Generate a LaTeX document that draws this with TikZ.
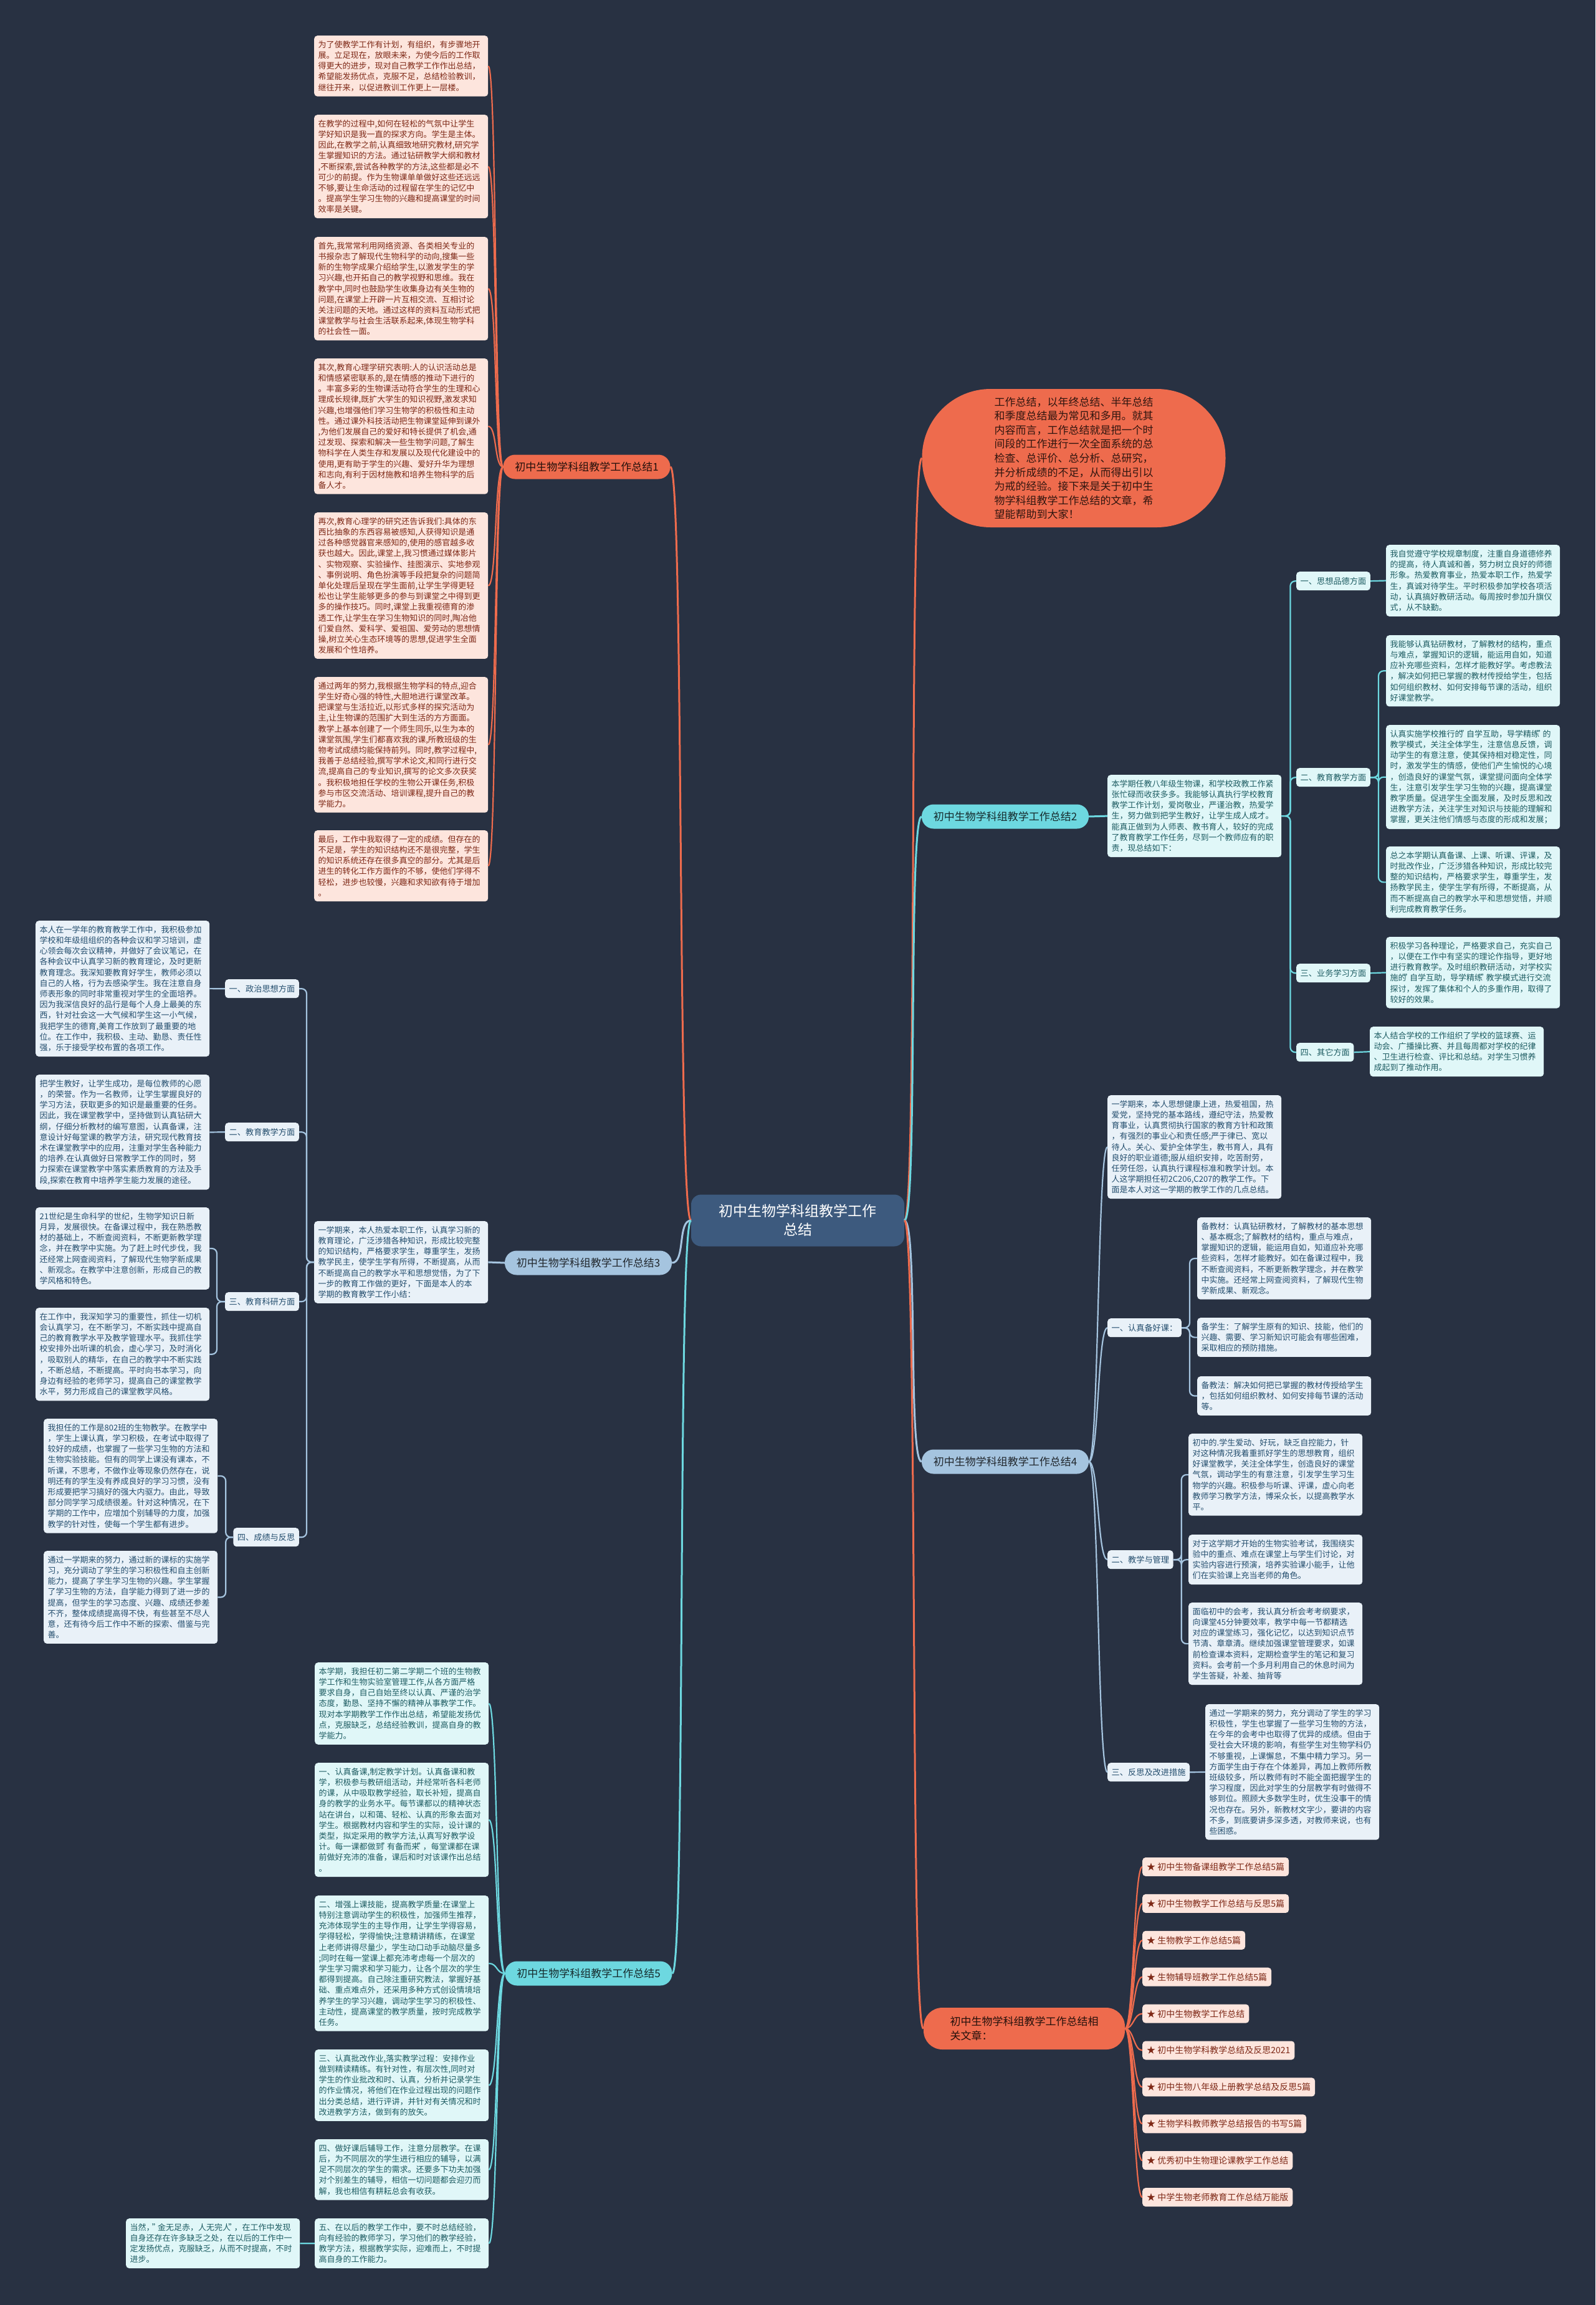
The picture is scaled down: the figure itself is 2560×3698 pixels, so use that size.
\documentclass[tikz,border=0pt]{standalone}
\usepackage{fontspec}
\setmainfont{Noto Sans CJK SC}
\newcommand\myfs[2]{\fontsize{#1}{#2}\selectfont}
\newcommand\dq{\makebox[5.5pt][c]{"}}
\definecolor{bgc}{HTML}{283142}
\definecolor{ocol}{HTML}{EE6B4D}
\definecolor{opink}{HTML}{FDE5DD}
\definecolor{otext}{HTML}{7E2816}
\definecolor{ccol}{HTML}{6DD8E0}
\definecolor{cpale}{HTML}{E0F7F8}
\definecolor{ctext}{HTML}{1D5C62}
\definecolor{bcol}{HTML}{A5C4DF}
\definecolor{bpale}{HTML}{E9F1F8}
\definecolor{btext}{HTML}{244E6E}
\definecolor{cen}{HTML}{3D5A7E}
\tikzset{
 box/.style={rounded corners=5pt, inner xsep=6.5pt, inner ysep=8.1pt, align=left, anchor=north west, text width=266pt, font=\myfs{13}{17.2}},
 obox/.style={box, fill=opink, text=otext},
 cbox/.style={box, fill=cpale, text=ctext},
 bbox/.style={box, fill=bpale, text=btext},
 slab/.style={rounded corners=5pt, inner xsep=6.5pt, inner ysep=0pt, minimum height=30pt, font=\myfs{13.2}{16}},
 cslab/.style={slab, fill=cpale, text=ctext},
 bslab/.style={slab, fill=bpale, text=btext},
 blab/.style={rounded corners=19pt, minimum width=268pt, minimum height=39pt, inner sep=0pt, font=\myfs{17}{20}},
 ritem/.style={rounded corners=5pt, anchor=west, inner xsep=7pt, inner ysep=0pt, minimum height=30pt, fill=opink, text=otext, font=\myfs{14}{16}},
 oln/.style={draw=ocol, line width=3pt},
 cln/.style={draw=ccol, line width=3pt},
 bln/.style={draw=bcol, line width=3pt},
 oln2/.style={draw=ocol, line width=2.2pt},
 cln2/.style={draw=ccol, line width=2.2pt, rounded corners=8pt},
 bln2/.style={draw=bcol, line width=2.2pt, rounded corners=8pt},
}
\begin{document}
\begin{tikzpicture}[x=1pt,y=-1pt]
\fill[bgc] (0,0) rectangle (2560,3698);
\useasboundingbox (0,0) rectangle (2560,3698);

% central
\node[fill=cen, text=white, rounded corners=16pt, minimum width=342pt, minimum height=83pt, align=center, font=\myfs{23}{30}] (c) at (1280,1958) {初中生物学科组教学工作\\总结};

% bubble
\node[fill=ocol, text={black!80!ocol}, rounded corners=110pt, minimum width=487pt, minimum height=222pt, align=left, font=\myfs{17}{22.6}] (bub) at (1723,735) {工作总结，以年终总结、半年总结\\和季度总结最为常见和多用。就其\\内容而言，工作总结就是把一个时\\间段的工作进行一次全面系统的总\\检查、总评价、总分析、总研究，\\并分析成绩的不足，从而得出引以\\为戒的经验。接下来是关于初中生\\物学科组教学工作总结的文章，希\\望能帮助到大家！};

% branch labels
\node[blab, fill=ocol, text={black!85!ocol}] (b1) at (941.5,749) {初中生物学科组教学工作总结1};
\node[blab, fill=ccol, text={black!80!ccol}] (b2) at (1613,1310) {初中生物学科组教学工作总结2};
\node[blab, fill=bcol, text={black!80!bcol}] (b3) at (944,2026) {初中生物学科组教学工作总结3};
\node[blab, fill=bcol, text={black!80!bcol}] (b4) at (1613,2345) {初中生物学科组教学工作总结4};
\node[blab, fill=ccol, text={black!80!ccol}] (b5) at (944.5,3166) {初中生物学科组教学工作总结5};
\node[fill=ocol, text={black!85!ocol}, rounded corners=30pt, minimum width=323pt, minimum height=67pt, align=left, font=\myfs{17}{23}] (rel) at (1643.5,3254.5) {初中生物学科组教学工作总结相\\关文章：};

% main connectors
\draw[oln] (c.east) .. controls +(22,0) and +(-22,0) .. (bub.west);
\draw[cln] (c.east) .. controls +(22,0) and +(-22,0) .. (b2.west);
\draw[bln] (c.east) .. controls +(22,0) and +(-22,0) .. (b4.west);
\draw[oln] (c.east) .. controls +(22,0) and +(-22,0) .. (rel.west);
\draw[oln] (c.west) .. controls +(-22,0) and +(22,0) .. (b1.east);
\draw[bln] (c.west) .. controls +(-22,0) and +(22,0) .. (b3.east);
\draw[cln] (c.west) .. controls +(-22,0) and +(22,0) .. (b5.east);

% ---------- branch 1 ----------
\node[obox] (p1) at (504,57) {为了使教学工作有计划，有组织，有步骤地开\\展。立足现在，放眼未来，为使今后的工作取\\得更大的进步，现对自己教学工作作出总结，\\希望能发扬优点，克服不足，总结检验教训，\\继往开来，以促进教训工作更上一层楼。};
\node[obox] (p2) at (504,184) {在教学的过程中,如何在轻松的气氛中让学生\\学好知识是我一直的探求方向。学生是主体。\\因此,在教学之前,认真细致地研究教材,研究学\\生掌握知识的方法。通过钻研教学大纲和教材\\,不断探索,尝试各种教学的方法,这些都是必不\\可少的前提。作为生物课单单做好这些还远远\\不够,要让生命活动的过程留在学生的记忆中\\。提高学生学习生物的兴趣和提高课堂的时间\\效率是关键。};
\node[obox] (p3) at (504,380) {首先,我常常利用网络资源、各类相关专业的\\书报杂志了解现代生物科学的动向,搜集一些\\新的生物学成果介绍给学生,以激发学生的学\\习兴趣,也开拓自己的教学视野和思维。我在\\教学中,同时也鼓励学生收集身边有关生物的\\问题,在课堂上开辟一片互相交流、互相讨论\\关注问题的天地。通过这样的资料互动形式把\\课堂教学与社会生活联系起来,体现生物学科\\的社会性一面。};
\node[obox] (p4) at (504,575) {其次,教育心理学研究表明:人的认识活动总是\\和情感紧密联系的,是在情感的推动下进行的\\。丰富多彩的生物课活动符合学生的生理和心\\理成长规律,既扩大学生的知识视野,激发求知\\兴趣,也增强他们学习生物学的积极性和主动\\性。通过课外科技活动把生物课堂延伸到课外\\,为他们发展自己的爱好和特长提供了机会,通\\过发现、探索和解决一些生物学问题,了解生\\物科学在人类生存和发展以及现代化建设中的\\使用,更有助于学生的兴趣、爱好升华为理想\\和志向,有利于因材施教和培养生物科学的后\\备人才。};
\node[obox] (p5) at (504,822) {再次,教育心理学的研究还告诉我们:具体的东\\西比抽象的东西容易被感知,人获得知识是通\\过各种感觉器官来感知的,使用的感官越多收\\获也越大。因此,课堂上,我习惯通过媒体影片\\、实物观察、实验操作、挂图演示、实地参观\\、事例说明、角色扮演等手段把复杂的问题简\\单化处理后呈现在学生面前,让学生学得更轻\\松也让学生能够更多的参与到课堂之中得到更\\多的操作技巧。同时,课堂上我重视德育的渗\\透工作,让学生在学习生物知识的同时,陶冶他\\们爱自然、爱科学、爱祖国、爱劳动的思想情\\操,树立关心生态环境等的思想,促进学生全面\\发展和个性培养。};
\node[obox] (p6) at (504,1086) {通过两年的努力,我根据生物学科的特点,迎合\\学生好奇心强的特性,大胆地进行课堂改革。\\把课堂与生活拉近,以形式多样的探究活动为\\主,让生物课的范围扩大到生活的方方面面。\\教学上基本创建了一个师生同乐,以生为本的\\课堂氛围,学生们都喜欢我的课,所教班级的生\\物考试成绩均能保持前列。同时,教学过程中,\\我善于总结经验,撰写学术论文,和同行进行交\\流,提高自己的专业知识,撰写的论文多次获奖\\。我积极地担任学校的生物公开课任务,积极\\参与市区交流活动、培训课程,提升自己的教\\学能力。};
\node[obox] (p7) at (504,1332) {最后，工作中我取得了一定的成绩。但存在的\\不足是，学生的知识结构还不是很完整，学生\\的知识系统还存在很多真空的部分。尤其是后\\进生的转化工作方面作的不够，使他们学得不\\轻松，进步也较慢，兴趣和求知欲有待于增加\\。};
\foreach \n in {p1,p2,p3,p4,p5,p6,p7}
  \draw[oln2] (b1.west) .. controls +(-14,0) and +(14,0) .. (\n.east);

% ---------- branch 2 ----------
\node[cbox] (r0) at (1777,1243) {本学期任教八年级生物课，和学校政教工作紧\\张忙碌而收获多多。我能够认真执行学校教育\\教学工作计划，爱岗敬业，严谨治教，热爱学\\生，努力做到把学生教好，让学生成人成才。\\能真正做到为人师表、教书育人，较好的完成\\了教育教学工作任务，尽到一个教师应有的职\\责，现总结如下：};
\node[cslab, anchor=north west] (l21) at (2080,917) {一、思想品德方面};
\node[cslab, anchor=north west] (l22) at (2080,1232) {二、教育教学方面};
\node[cslab, anchor=north west] (l23) at (2080,1546) {三、业务学习方面};
\node[cslab, anchor=north west] (l24) at (2080,1673) {四、其它方面};
\node[cbox] (r1) at (2224,874) {我自觉遵守学校规章制度，注重自身道德修养\\的提高，待人真诚和善，努力树立良好的师德\\形象。热爱教育事业，热爱本职工作，热爱学\\生，真诚对待学生。平时积极参加学校各项活\\动，认真搞好教研活动。每周按时参加升旗仪\\式，从不缺勤。};
\node[cbox] (r2) at (2224,1019) {我能够认真钻研教材，了解教材的结构，重点\\与难点，掌握知识的逻辑，能运用自如，知道\\应补充哪些资料，怎样才能教好学。考虑教法\\，解决如何把已掌握的教材传授给学生，包括\\如何组织教材、如何安排每节课的活动，组织\\好课堂教学。};
\node[cbox] (r3) at (2224,1163) {认真实施学校推行的\dq 自学互助，导学精练\dq 的\\教学模式，关注全体学生，注意信息反馈，调\\动学生的有意注意，使其保持相对稳定性，同\\时，激发学生的情感，使他们产生愉悦的心境\\，创造良好的课堂气氛，课堂提问面向全体学\\生，注意引发学生学习生物的兴趣，提高课堂\\教学质量。促进学生全面发展，及时反思和改\\进教学方法，关注学生对知识与技能的理解和\\掌握，更关注他们情感与态度的形成和发展；};
\node[cbox] (r4) at (2224,1358) {总之本学期认真备课、上课、听课、评课，及\\时批改作业，广泛涉猎各种知识，形成比较完\\整的知识结构，严格要求学生，尊重学生，发\\扬教学民主，使学生学有所得，不断提高，从\\而不断提高自己的教学水平和思想觉悟，并顺\\利完成教育教学任务。};
\node[cbox] (r5) at (2224,1503) {积极学习各种理论，严格要求自己，充实自己\\，以便在工作中有坚实的理论作指导，更好地\\进行教育教学。及时组织教研活动，对学校实\\施的\dq 自学互助，导学精练\dq 教学模式进行交流\\探讨，发挥了集体和个人的多重作用，取得了\\较好的效果。};
\node[cbox] (r6) at (2198,1647) {本人结合学校的工作组织了学校的篮球赛、运\\动会、广播操比赛、并且每周都对学校的纪律\\、卫生进行检查、评比和总结。对学生习惯养\\成起到了推动作用。};
\draw[cln] (b2.east) -- (r0.west);
\foreach \n in {l21,l22,l23,l24}
  \draw[cln2] (r0.east) -- ++(14,0) |- (\n.west);
\draw[cln2] (l21.east) -- (r1.west);
\foreach \n in {r2,r3,r4}
  \draw[cln2] (l22.east) -- ++(13,0) |- (\n.west);
\draw[cln2] (l23.east) -- (r5.west);
\draw[cln2] (l24.east) -- (r6.west);

% ---------- branch 3 ----------
\node[bbox] (q0) at (504,1959) {一学期来，本人热爱本职工作，认真学习新的\\教育理论，广泛涉猎各种知识，形成比较完整\\的知识结构，严格要求学生，尊重学生，发扬\\教学民主，使学生学有所得，不断提高，从而\\不断提高自己的教学水平和思想觉悟，为了下\\一步的教育工作做的更好，下面是本人的本\\学期的教育教学工作小结：};
\node[bslab, anchor=north east] (l31) at (480,1571) {一、政治思想方面};
\node[bslab, anchor=north east] (l32) at (480,1801) {二、教育教学方面};
\node[bslab, anchor=north east] (l33) at (480,2073) {三、教育科研方面};
\node[bslab, anchor=north east] (l34) at (480,2451) {四、成绩与反思};
\node[bbox] (q1) at (57,1477) {本人在一学年的教育教学工作中，我积极参加\\学校和年级组组织的各种会议和学习培训，虚\\心领会每次会议精神，并做好了会议笔记，在\\各种会议中认真学习新的教育理论，及时更新\\教育理念。我深知要教育好学生，教师必须以\\自己的人格，行为去感染学生。我在注意自身\\师表形象的同时非常重视对学生的全面培养。\\因为我深信良好的品行是每个人身上最美的东\\西，针对社会这一大气候和学生这一小气候，\\我把学生的德育,美育工作放到了最重要的地\\位。在工作中，我积极、主动、勤恳、责任性\\强，乐于接受学校布置的各项工作。};
\node[bbox] (q2) at (57,1724) {把学生教好，让学生成功，是每位教师的心愿\\，的荣誉。作为一名教师，让学生掌握良好的\\学习方法，获取更多的知识是最重要的任务。\\因此，我在课堂教学中，坚持做到认真钻研大\\纲，仔细分析教材的编写意图，认真备课，注\\意设计好每堂课的教学方法，研究现代教育技\\术在课堂教学中的应用，注重对学生各种能力\\的培养.在认真做好日常教学工作的同时，努\\力探索在课堂教学中落实素质教育的方法及手\\段,探索在教育中培养学生能力发展的途径。};
\node[bbox] (q3) at (57,1937) {21世纪是生命科学的世纪，生物学知识日新\\月异，发展很快。在备课过程中，我在熟悉教\\材的基础上，不断查阅资料，不断更新教学理\\念，并在教学中实施。为了赶上时代步伐，我\\还经常上网查阅资料，了解现代生物学新成果\\、新观念。在教学中注意创新，形成自己的教\\学风格和特色。};
\node[bbox] (q4) at (57,2098) {在工作中，我深知学习的重要性，抓住一切机\\会认真学习，在不断学习，不断实践中提高自\\己的教育教学水平及教学管理水平。我抓住学\\校安排外出听课的机会，虚心学习，及时消化\\，吸取别人的精华，在自己的教学中不断实践\\，不断总结，不断提高。平时向书本学习，向\\身边有经验的老师学习，提高自己的课堂教学\\水平，努力形成自己的课堂教学风格。};
\node[bbox] (q5) at (70,2276) {我担任的工作是802班的生物教学。在教学中\\，学生上课认真，学习积极，在考试中取得了\\较好的成绩，也掌握了一些学习生物的方法和\\生物实验技能。但有的同学上课没有课本，不\\听课，不思考，不做作业等现象仍然存在，说\\明还有的学生没有养成良好的学习习惯，没有\\形成要把学习搞好的强大内驱力。由此，导致\\部分同学学习成绩很差。针对这种情况，在下\\学期的工作中，应增加个别辅导的力度，加强\\教学的针对性，使每一个学生都有进步。};
\node[bbox] (q6) at (70,2488) {通过一学期来的努力，通过新的课标的实施学\\习，充分调动了学生的学习积极性和自主创新\\能力，提高了学生学习生物的兴趣。学生掌握\\了学习生物的方法，自学能力得到了进一步的\\提高，但学生的学习态度、兴趣、成绩还参差\\不齐，整体成绩提高得不快，有些甚至不尽人\\意，还有待今后工作中不断的探索、借鉴与完\\善。};
\draw[bln] (b3.west) -- (q0.east);
\foreach \n in {l31,l32,l33,l34}
  \draw[bln2] (q0.west) -- ++(-12,0) |- (\n.east);
\draw[bln2] (l31.west) -- (q1.east);
\draw[bln2] (l32.west) -- (q2.east);
\foreach \n in {q3,q4}
  \draw[bln2] (l33.west) -- ++(-13,0) |- (\n.east);
\foreach \n in {q5,q6}
  \draw[bln2] (l34.west) -- ++(-12,0) |- (\n.east);

% ---------- branch 4 ----------
\node[bbox] (s0) at (1777,1757) {一学期来，本人思想健康上进，热爱祖国，热\\爱党，坚持党的基本路线，遵纪守法，热爱教\\育事业，认真贯彻执行国家的教育方针和政策\\，有强烈的事业心和责任感;严于律已、宽以\\待人。关心、爱护全体学生，教书育人，具有\\良好的职业道德;服从组织安排，吃苦耐劳，\\任劳任怨，认真执行课程标准和教学计划。本\\人这学期担任初2C206,C207的教学工作。下\\面是本人对这一学期的教学工作的几点总结。};
\node[bslab, anchor=north west] (l41) at (1777,2115) {一、认真备好课：};
\node[bslab, anchor=north west] (l42) at (1777,2487) {二、教学与管理};
\node[bslab, anchor=north west] (l43) at (1777,2828) {三、反思及改进措施};
\node[bbox] (s1) at (1921,1953) {备教材：认真钻研教材，了解教材的基本思想\\、基本概念;了解教材的结构，重点与难点，\\掌握知识的逻辑，能运用自如，知道应补充哪\\些资料，怎样才能教好。如在备课过程中，我\\不断查阅资料，不断更新教学理念，并在教学\\中实施。还经常上网查阅资料，了解现代生物\\学新成果、新观念。};
\node[bbox] (s2) at (1921,2114) {备学生：了解学生原有的知识、技能，他们的\\兴趣、需要、学习新知识可能会有哪些困难，\\采取相应的预防措施。};
\node[bbox] (s3) at (1921,2208) {备教法：解决如何把已掌握的教材传授给学生\\，包括如何组织教材、如何安排每节课的活动\\等。};
\node[bbox] (s4) at (1907,2300) {初中的.学生爱动、好玩，缺乏自控能力，针\\对这种情况我着重抓好学生的思想教育，组织\\好课堂教学，关注全体学生，创造良好的课堂\\气氛，调动学生的有意注意，引发学生学习生\\物学的兴趣。积极参与听课、评课，虚心向老\\教师学习教学方法，博采众长，以提高教学水\\平。};
\node[bbox] (s5) at (1907,2462) {对于这学期才开始的生物实验考试，我围绕实\\验中的重点、难点在课堂上与学生们讨论，对\\实验内容进行预演，培养实验课小能手，让他\\们在实验课上充当老师的角色。};
\node[bbox] (s6) at (1907,2571) {面临初中的会考，我认真分析会考考纲要求，\\向课堂45分钟要效率，教学中每一节都精选\\对应的课堂练习，强化记忆，以达到知识点节\\节清、章章清。继续加强课堂管理要求，如课\\前检查课本资料，定期检查学生的笔记和复习\\资料。会考前一个多月利用自己的休息时间为\\学生答疑，补差、抽背等};
\node[bbox] (s7) at (1934,2734) {通过一学期来的努力，充分调动了学生的学习\\积极性，学生也掌握了一些学习生物的方法，\\在今年的会考中也取得了优异的成绩。但由于\\受社会大环境的影响，有些学生对生物学科仍\\不够重视，上课懈怠，不集中精力学习。另一\\方面学生由于存在个体差异，再加上教师所教\\班级较多，所以教师有时不能全面把握学生的\\学习程度，因此对学生的分层教学有时做得不\\够到位。照顾大多数学生时，优生没事干的情\\况也存在。另外，新教材文字少，要讲的内容\\不多，到底要讲多深多透，对教师来说，也有\\些困惑。};
\foreach \n in {s0,l41,l42,l43}
  \draw[bln2] (b4.east) .. controls +(16,0) and +(-16,0) .. (\n.west);
\foreach \n in {s1,s2,s3}
  \draw[bln2] (l41.east) -- ++(13,0) |- (\n.west);
\foreach \n in {s4,s5,s6}
  \draw[bln2] (l42.east) -- ++(13,0) |- (\n.west);
\draw[bln2] (l43.east) -- (s7.west);

% ---------- branch 5 ----------
\node[cbox] (t1) at (505,2667) {本学期，我担任初二第二学期二个班的生物教\\学工作和生物实验室管理工作,从各方面严格\\要求自身，自己自始至终以认真、严谨的治学\\态度，勤恳、坚持不懈的精神从事教学工作。\\现对本学期教学工作作出总结，希望能发扬优\\点，克服缺乏，总结经验教训，提高自身的教\\学能力。};
\node[cbox] (t2) at (505,2828) {一、认真备课,制定教学计划。认真备课和教\\学，积极参与教研组活动，并经常听各科老师\\的课，从中吸取教学经验，取长补短，提高自\\身的教学的业务水平。每节课都以的精神状态\\站在讲台，以和蔼、轻松、认真的形象去面对\\学生。根据教材内容和学生的实际，设计课的\\类型，拟定采用的教学方法,认真写好教学设\\计。每一课都做到\dq 有备而来\dq ，每堂课都在课\\前做好充沛的准备，课后和时对该课作出总结\\。};
\node[cbox] (t3) at (505,3041) {二、增强上课技能，提高教学质量:在课堂上\\特别注意调动学生的积极性，加强师生推荐，\\充沛体现学生的主导作用，让学生学得容易，\\学得轻松，学得愉快;注意精讲精练，在课堂\\上老师讲得尽量少，学生动口动手动脑尽量多\\;同时在每一堂课上都充沛考虑每一个层次的\\学生学习需求和学习能力，让各个层次的学生\\都得到提高。自己除注重研究教法，掌握好基\\础、重点难点外，还采用多种方式创设情境培\\养学生的学习兴趣，调动学生学习的积极性、\\主动性，提高课堂的教学质量，按时完成教学\\任务。};
\node[cbox] (t4) at (505,3288) {三、认真批改作业,落实教学过程：安排作业\\做到精读精练。有针对性，有层次性,同时对\\学生的作业批改和时、认真，分析并记录学生\\的作业情况，将他们在作业过程出现的问题作\\出分类总结，进行评讲，并针对有关情况和时\\改进教学方法，做到有的放矢。};
\node[cbox] (t5) at (505,3432) {四、做好课后辅导工作，注意分层教学。在课\\后，为不同层次的学生进行相应的辅导，以满\\足不同层次的学生的需求。还要多下功夫加强\\对个别差生的辅导，相信一切问题都会迎刃而\\解，我也相信有耕耘总会有收获。};
\node[cbox] (t6) at (505,3559) {五、在以后的教学工作中，要不时总结经验，\\向有经验的教师学习，学习他们的教学经验，\\教学方法，根据教学实际，迎难而上，不时提\\高自身的工作能力。};
\node[cbox] (t7) at (202,3559) {当然，\dq 金无足赤，人无完人\dq ，在工作中发现\\自身还存在许多缺乏之处，在以后的工作中一\\定发扬优点，克服缺乏，从而不时提高，不时\\进步。};
\foreach \n in {t1,t2,t3,t4,t5,t6}
  \draw[cln2] (b5.west) .. controls +(-14,0) and +(14,0) .. (\n.east);
\draw[cln2] (t6.west) -- (t7.east);

% ---------- related ----------
\foreach \t [count=\i] in {初中生物备课组教学工作总结5篇, 初中生物教学工作总结与反思5篇, 生物教学工作总结5篇, 生物辅导班教学工作总结5篇, 初中生物教学工作总结, 初中生物学科教学总结及反思2021, 初中生物八年级上册教学总结及反思5篇, 生物学科教师教学总结报告的书写5篇, 优秀初中生物理论课教学工作总结, 中学生物老师教育工作总结万能版} {
  \node[ritem] (it\i) at (1833,{2995+58.9*(\i-1)}) {★ \t};
  \draw[oln2] (rel.east) .. controls +(14,0) and +(-14,0) .. (it\i.west);
}
\end{tikzpicture}
\end{document}
